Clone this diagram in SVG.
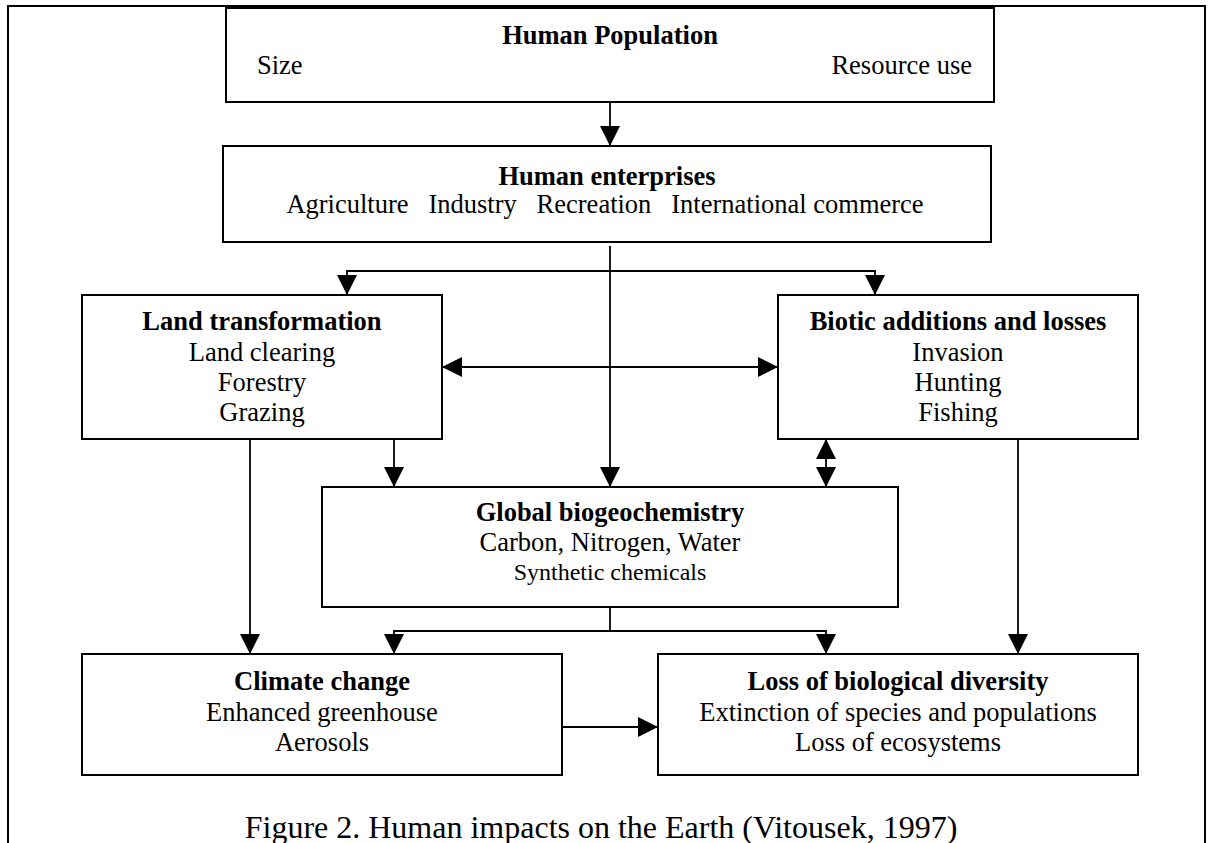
<svg xmlns="http://www.w3.org/2000/svg" width="1211" height="843" viewBox="0 0 1211 843">
<style>
.frame{fill:none;stroke:#000;stroke-width:2}
.box{fill:#fff;stroke:#000;stroke-width:2}
.ln{fill:none;stroke:#000;stroke-width:1.8}
.t{font-family:"Liberation Serif","Times New Roman",serif;font-size:26.5px;text-anchor:middle;fill:#000}
.b{font-weight:bold}
.s{font-size:24px}
.cap{font-family:"Liberation Serif","Times New Roman",serif;font-size:32px;text-anchor:middle;fill:#000}
</style>
<defs>
<marker id="ah" markerUnits="userSpaceOnUse" markerWidth="20" markerHeight="20" viewBox="0 0 20 20" refX="20" refY="10" orient="auto-start-reverse">
<path d="M0,0 L20,10 L0,20 Z" fill="#000"/>
</marker>
</defs>
<rect width="1211" height="843" fill="#fff"/>
<path class="frame" d="M8,900 V6 H1205 V900"/>
<g id="connectors">
<line class="ln" x1="610" y1="102" x2="610" y2="146" marker-end="url(#ah)"/>
<line class="ln" x1="610" y1="246" x2="610" y2="487" marker-end="url(#ah)"/>
<path class="ln" d="M610,271 H347 V295" marker-end="url(#ah)"/>
<path class="ln" d="M610,271 H875 V295" marker-end="url(#ah)"/>
<line class="ln" x1="442" y1="367" x2="778" y2="367" marker-start="url(#ah)" marker-end="url(#ah)"/>
<line class="ln" x1="394" y1="439" x2="394" y2="487" marker-end="url(#ah)"/>
<line class="ln" x1="826" y1="439" x2="826" y2="487" marker-start="url(#ah)" marker-end="url(#ah)"/>
<line class="ln" x1="250" y1="439" x2="250" y2="654" marker-end="url(#ah)"/>
<line class="ln" x1="1018" y1="439" x2="1018" y2="654" marker-end="url(#ah)"/>
<path class="ln" d="M610,607 V631 H394 V654" marker-end="url(#ah)"/>
<path class="ln" d="M610,631 H826 V654" marker-end="url(#ah)"/>
<line class="ln" x1="562" y1="727" x2="658" y2="727" marker-end="url(#ah)"/>
</g>
<g id="human-population">
<rect class="box" x="226" y="8" width="768" height="94"/>
<text class="t b" x="610" y="44">Human Population</text>
<text class="t" x="257" y="74" text-anchor="start" style="text-anchor:start">Size</text>
<text class="t" x="972" y="74" style="text-anchor:end">Resource use</text>
</g>
<g id="human-enterprises">
<rect class="box" x="223" y="146" width="768" height="96"/>
<text class="t b" x="607" y="185">Human enterprises</text>
<text class="t" x="605" y="213" xml:space="preserve">Agriculture   Industry   Recreation   International commerce</text>
</g>
<g id="land-transformation">
<rect class="box" x="82" y="295" width="360" height="144"/>
<text class="t b" x="262" y="330">Land transformation</text>
<text class="t" x="262" y="361">Land clearing</text>
<text class="t" x="262" y="391">Forestry</text>
<text class="t" x="262" y="421">Grazing</text>
</g>
<g id="biotic">
<rect class="box" x="778" y="295" width="360" height="144"/>
<text class="t b" x="958" y="330">Biotic additions and losses</text>
<text class="t" x="958" y="361">Invasion</text>
<text class="t" x="958" y="391">Hunting</text>
<text class="t" x="958" y="421">Fishing</text>
</g>
<g id="global-biogeochemistry">
<rect class="box" x="322" y="487" width="576" height="120"/>
<text class="t b" x="610" y="521">Global biogeochemistry</text>
<text class="t" x="610" y="551">Carbon, Nitrogen, Water</text>
<text class="t s" x="610" y="580">Synthetic chemicals</text>
</g>
<g id="climate-change">
<rect class="box" x="82" y="654" width="480" height="121"/>
<text class="t b" x="322" y="690">Climate change</text>
<text class="t" x="322" y="721">Enhanced greenhouse</text>
<text class="t" x="322" y="751">Aerosols</text>
</g>
<g id="loss-biodiversity">
<rect class="box" x="658" y="654" width="480" height="121"/>
<text class="t b" x="898" y="690">Loss of biological diversity</text>
<text class="t" x="898" y="721">Extinction of species and populations</text>
<text class="t" x="898" y="751">Loss of ecosystems</text>
</g>
<text class="cap" x="601" y="838">Figure 2. Human impacts on the Earth (Vitousek, 1997)</text>
</svg>
